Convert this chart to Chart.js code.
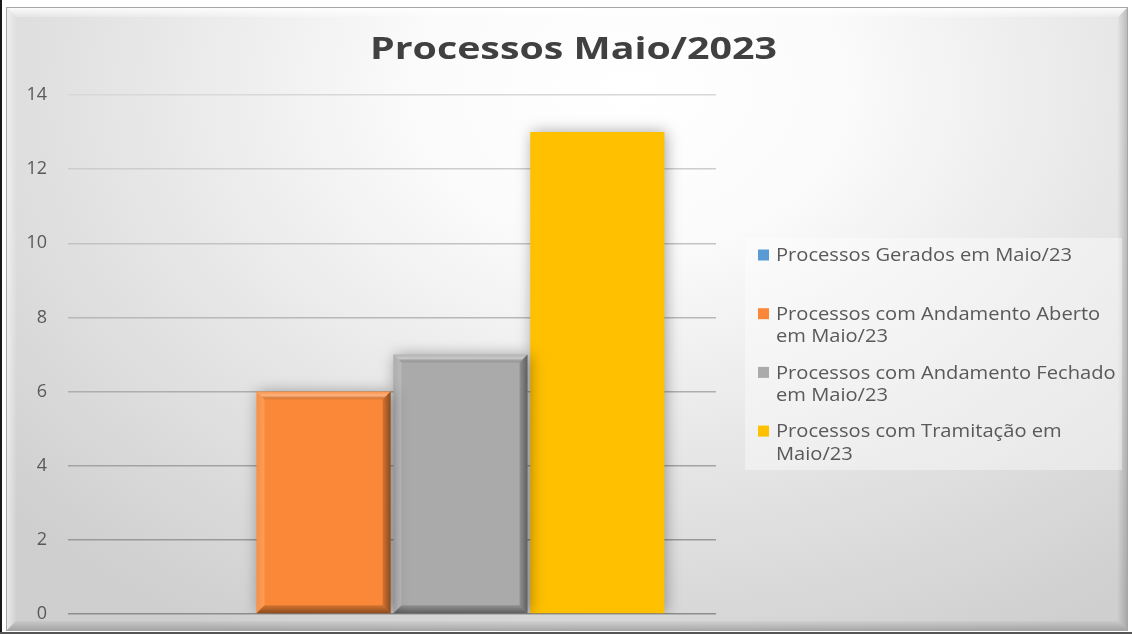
<!DOCTYPE html>
<html><head><meta charset="utf-8">
<script src="https://cdn.jsdelivr.net/npm/chart.js@4.4.0/dist/chart.umd.min.js"></script>
<style>html,body{margin:0;padding:0;background:#fff;overflow:hidden}#wrap{width:1132px;height:634px;position:relative}</style>
</head><body><div id="wrap"><canvas id="c"></canvas></div>
<script>
const chartTitle = 'Processos Maio/2023';
const categories = [''];
const seriesLabels = ['Processos Gerados em Maio/23', 'Processos com Andamento Aberto em Maio/23', 'Processos com Andamento Fechado em Maio/23', 'Processos com Tramitação em Maio/23'];
const legendLines = [['Processos Gerados em Maio/23'], ['Processos com Andamento Aberto', 'em Maio/23'], ['Processos com Andamento Fechado', 'em Maio/23'], ['Processos com Tramitação em', 'Maio/23']];
const seriesGerados = [0];
const seriesAberto = [6];
const seriesFechado = [7];
const seriesTramitacao = [13];
const yTicks = [0, 2, 4, 6, 8, 10, 12, 14];

const seriesColors = ['#5B9BD5', '#FA8838', '#AAAAAA', '#FFC000'];
const bevelFlags = [false, true, true, false];

function gridColor(v) {
  const t = v / 14;
  const c = Math.round(0x8e + (0xd8 - 0x8e) * t);
  return 'rgb(' + c + ',' + c + ',' + c + ')';
}

const framePlugin = {
  id: 'frame',
  beforeDraw(chart) {
    const c = chart.ctx, W = chart.width, H = chart.height;
    c.save();
    c.fillStyle = '#ffffff';
    c.fillRect(0, 0, W, H);
    const x0 = 6, y0 = 7, x1 = 1128, y1 = 631;
    c.save();
    c.beginPath(); c.rect(x0, y0, x1 - x0, y1 - y0); c.clip();
    c.translate(630, 90);
    c.scale(1.35, 1);
    const g = c.createRadialGradient(0, 0, 0, 0, 0, 620);
    g.addColorStop(0, '#ffffff');
    g.addColorStop(0.25, '#fbfbfb');
    g.addColorStop(0.6, '#e6e6e6');
    g.addColorStop(1, '#cfcfcf');
    c.fillStyle = g;
    c.fillRect(-700, -200, 1400, 900);
    c.restore();
    const b = 10;
    const poly = (pts, fill) => { c.beginPath(); c.moveTo(pts[0], pts[1]); for (let i = 2; i < pts.length; i += 2) c.lineTo(pts[i], pts[i + 1]); c.closePath(); c.fillStyle = fill; c.fill(); };
    let gt = c.createLinearGradient(0, y0, 0, y0 + b);
    gt.addColorStop(0, 'rgba(255,255,255,0.95)'); gt.addColorStop(1, 'rgba(255,255,255,0.2)');
    poly([x0, y0, x1, y0, x1 - b, y0 + b, x0 + b, y0 + b], gt);
    let gl = c.createLinearGradient(x0, 0, x0 + b, 0);
    gl.addColorStop(0, 'rgba(255,255,255,0.6)'); gl.addColorStop(1, 'rgba(255,255,255,0.05)');
    poly([x0, y0, x0 + b, y0 + b, x0 + b, y1 - b, x0, y1], gl);
    let gr = c.createLinearGradient(x1 - b, 0, x1, 0);
    gr.addColorStop(0, 'rgba(0,0,0,0.02)'); gr.addColorStop(1, 'rgba(0,0,0,0.2)');
    poly([x1, y0, x1, y1, x1 - b, y1 - b, x1 - b, y0 + b], gr);
    let gb = c.createLinearGradient(0, y1 - b, 0, y1);
    gb.addColorStop(0, 'rgba(0,0,0,0.03)'); gb.addColorStop(1, 'rgba(0,0,0,0.22)');
    poly([x0, y1, x0 + b, y1 - b, x1 - b, y1 - b, x1, y1], gb);
    c.strokeStyle = '#a6a6a6'; c.lineWidth = 1;
    c.strokeRect(x0 + 0.5, y0 + 0.5, x1 - x0 - 1, y1 - y0 - 1);
    c.fillStyle = '#1a1a1a'; c.fillRect(0, 0, 2, H);
    c.fillStyle = '#555555'; c.fillRect(0, H - 2, W, 2);
    c.fillStyle = 'rgba(255,255,255,0.4)';
    c.fillRect(745, 238, 377, 232);
    c.restore();
  }
};

const barFx = {
  id: 'barFx',
  beforeDatasetsDraw(chart) {
    const c = chart.ctx; c.save();
    c.shadowColor = 'rgba(0,0,0,0.35)'; c.shadowBlur = 14; c.shadowOffsetX = 2; c.shadowOffsetY = 0;
  },
  afterDatasetsDraw(chart) {
    const c = chart.ctx; c.restore();
    chart.data.datasets.forEach((ds, i) => {
      if (!bevelFlags[i]) return;
      chart.getDatasetMeta(i).data.forEach(el => {
        const p = el.getProps(['x', 'y', 'base', 'width'], true);
        const x0 = p.x - p.width / 2, x1 = p.x + p.width / 2;
        const y0 = Math.min(p.y, p.base), y1 = Math.max(p.y, p.base);
        if (y1 - y0 < 2) return;
        const b = 8;
        const poly = (pts, fill) => { c.beginPath(); c.moveTo(pts[0], pts[1]); for (let k = 2; k < pts.length; k += 2) c.lineTo(pts[k], pts[k + 1]); c.closePath(); c.fillStyle = fill; c.fill(); };
        c.save();
        let gt = c.createLinearGradient(0, y0, 0, y0 + b);
        gt.addColorStop(0, 'rgba(255,255,255,0.1)'); gt.addColorStop(0.5, 'rgba(255,255,255,0.35)'); gt.addColorStop(1, 'rgba(0,0,0,0.08)');
        poly([x0, y0, x1, y0, x1 - b, y0 + b, x0 + b, y0 + b], gt);
        let gl = c.createLinearGradient(x0, 0, x0 + b, 0);
        gl.addColorStop(0, 'rgba(255,255,255,0.05)'); gl.addColorStop(1, 'rgba(255,255,255,0.18)');
        poly([x0, y0, x0 + b, y0 + b, x0 + b, y1 - b, x0, y1], gl);
        let gr = c.createLinearGradient(x1 - b, 0, x1, 0);
        gr.addColorStop(0, 'rgba(0,0,0,0.15)'); gr.addColorStop(1, 'rgba(0,0,0,0.45)');
        poly([x1, y0, x1, y1, x1 - b, y1 - b, x1 - b, y0 + b], gr);
        let gb = c.createLinearGradient(0, y1 - b, 0, y1);
        gb.addColorStop(0, 'rgba(0,0,0,0.15)'); gb.addColorStop(1, 'rgba(0,0,0,0.45)');
        poly([x0, y1, x0 + b, y1 - b, x1 - b, y1 - b, x1, y1], gb);
        c.restore();
      });
    });
  }
};

const textPlugin = {
  id: 'texts',
  afterDraw(chart) {
    const c = chart.ctx;
    c.save();
    c.font = 'bold 30px "Open Sans"';
    c.fillStyle = '#404040';
    c.textBaseline = 'alphabetic';
    c.textAlign = 'left';
    const tw = c.measureText(chartTitle).width;
    const ts = 407 / tw;
    c.save();
    c.translate(370, 59); c.scale(ts, 1);
    c.fillText(chartTitle, 0, 0);
    c.restore();
    c.font = '18px "Open Sans"';
    const ls = 296 / c.measureText(legendLines[0][0]).width;
    const firstY = 255, step = 58.7, lineH = 22.5;
    c.textBaseline = 'middle';
    chart.data.datasets.forEach((ds, i) => {
      const cy = firstY + i * step;
      c.fillStyle = ds.backgroundColor;
      c.fillRect(758, cy - 5.5, 11, 11);
      c.fillStyle = '#595959';
      legendLines[i].forEach((line, j) => {
        c.save();
        c.translate(776, cy + j * lineH + 1); c.scale(ls, 1);
        c.fillText(line, 0, 0);
        c.restore();
      });
    });
    c.restore();
  }
};

const datasets = [seriesGerados, seriesAberto, seriesFechado, seriesTramitacao].map((d, i) => ({
  label: seriesLabels[i],
  data: d,
  backgroundColor: seriesColors[i],
  borderWidth: 0,
  categoryPercentage: 0.845,
  barPercentage: 0.98
}));

new Chart(document.getElementById('c'), {
  type: 'bar',
  data: { labels: categories, datasets: datasets },
  options: {
    responsive: true,
    maintainAspectRatio: false,
    animation: false,
    devicePixelRatio: 1,
    layout: { padding: { left: 0, top: 95, right: 416, bottom: 20 } },
    plugins: { legend: { display: false }, title: { display: false }, tooltip: { enabled: false } },
    scales: {
      x: { display: false, grid: { display: false } },
      y: {
        min: 0, max: 14,
        afterBuildTicks(scale) { scale.ticks = yTicks.map(v => ({ value: v })); },
        afterFit(scale) { scale.width = 68; scale.paddingTop = 0; scale.paddingBottom = 0; },
        border: { display: false },
        grid: { color: ctx => gridColor(ctx.tick ? ctx.tick.value : 0), lineWidth: 1.4, drawTicks: false },
        ticks: { padding: 21, color: '#595959', font: { family: '"Open Sans"', size: 18 } }
      }
    }
  },
  plugins: [framePlugin, barFx, textPlugin]
});
</script>
</body></html>
